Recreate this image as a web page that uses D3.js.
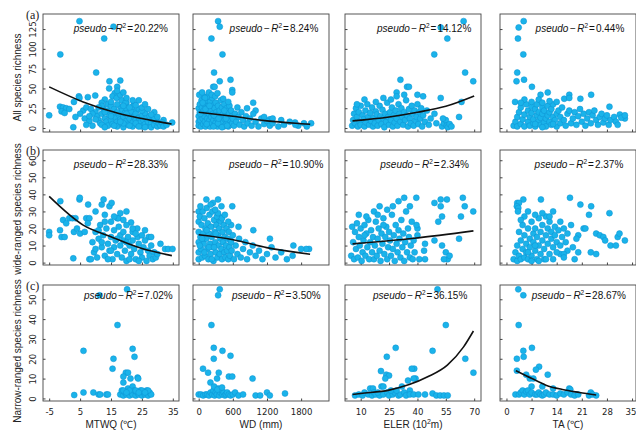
<!DOCTYPE html>
<html>
<head>
<meta charset="utf-8">
<script src="https://cdn.jsdelivr.net/npm/d3@7"></script>
<style>
body { margin:0; background:#fff; }
svg text { font-family: "Liberation Sans", Arial, sans-serif; fill:#222; }
.tick text { font-family: "Liberation Sans Narrow", "Arial Narrow", "DejaVu Sans Condensed", sans-serif; font-size:9.5px; }
</style>
</head>
<body>
<svg id="chart" width="636" height="430"></svg>
<script>
// ---- data ----
var xTitles = ["MTWQ (\u2103)", "WD (mm)", "ELER (10|2|m)", "TA (\u2103)"];
var yTitles = ["All species richness", "wide-ranged species richness", "Narrow-ranged species richness"];
var panelTags = ["(a)", "(b)", "(c)"];
var r2Labels = [["20.22%", "8.24%", "14.12%", "0.44%"],
                ["28.33%", "10.90%", "2.34%", "2.37%"],
                ["7.02%", "3.50%", "36.15%", "28.67%"]];
var xTicks = [[-5, 5, 15, 25, 35], [0, 600, 1200, 1800], [10, 25, 40, 55, 70], [0, 7, 14, 21, 28, 35]];
var yTicks = [[0, 25, 50, 75, 100, 125], [0, 10, 20, 30, 40, 50, 60], [0, 10, 20, 30, 40, 50]];

// row 1: all species
var allMTWQ = [[-5,16],[-1.4,93],[4.8,135],[-1.5,27],[-0.5,26],[0.5,25],[1.5,24],[-1,21],[0,19],[2.8,1],[3,33],[4.6,40],[4.8,38],[7.5,39],[9.9,41],[6,22],[7,26],[8.5,24],[5,18],[3.5,14],[6.5,12],[8,9],[7,4],[9,3],[10.2,70],[12.8,113],[15.8,128],[14.5,59],[18,60],[17,52],[14.4,50],[16.2,44],[15.5,40],[16.8,38],[13,36],[18.5,35],[12,32],[14,30],[20,32],[22.4,30],[23,21],[19.7,32],[27.3,13],[32,10],[34.8,7],[30,8],
  [10,20],[10.5,15],[11,10],[11.5,6],[12,18],[12.5,25],[13,12],[13.5,8],[14,22],[14,3],[14.5,16],[15,28],[15,10],[15.5,5],[16,19],[16,24],[16.5,13],[17,8],[17,2],[17.5,17],[18,27],[18,11],[18.5,22],[18.5,5],[19,14],[19,1],[19.5,19],[20,9],[20,25],[20.5,4],[21,16],[21,12],[21.5,21],[22,7],[22,2],[22.5,14],[23,18],[23,10],[23.5,4],[24,24],[24,13],[24.5,7],[25,16],[25,2],[25.5,10],[26,5],[26,19],[26.5,12],[27,3],[27,8],[27.5,15],[28,6],[28,1],[28.5,11],[29,4],[29.5,9],[30,2],[30.5,6],[31,3],[31.5,7],[32,2],[33,4],[12,28],[13,20],[15,15],[17,20],[19,6],[21,3],[23,6],[25,22],[20,18],[22,27],[16,3],[18,8],[24,2],[26,1],[29,12],[11,26],[9,18],[8,15],[10,11],[12,4],[13,1],[15,33],[17,30],[19,28],[21,26],[23,29],[25,26],[27,24],[29,20],[20,38],[18,42],[22,35],[19,45],[17,47],[24,35],[26,30],[28,17],[30,14]];
var allWD = [[341,135],[370,128],[224,113],[418,93],[270,70],[255,52],[280,52],[370,59],[559,61],[590,48],[590,45],[958,32],[1000,22],[1253,11],[1694,7],[1976,6],
  [0,25],[0,15],[0,8],[0,3],[20,30],[20,20],[30,10],[40,2],[50,35],[50,18],[60,26],[70,12],[80,5],[90,40],[90,22],[100,30],[100,15],[110,8],[120,2],[130,35],[130,20],[140,25],[150,12],[160,40],[160,5],[170,28],[180,18],[190,10],[200,33],[200,2],[210,22],[220,14],[230,6],[240,28],[240,38],[250,18],[260,10],[270,3],[280,25],[290,15],[300,32],[300,7],[310,20],[320,12],[330,2],[340,28],[350,17],[360,9],[370,22],[380,4],[390,35],[400,14],[410,26],[420,7],[430,18],[440,2],[450,30],[460,11],[470,20],[480,5],[490,25],[500,14],[510,8],[520,2],[530,19],[540,28],[550,10],[560,4],[570,22],[580,15],[590,6],[600,12],[620,3],[640,18],[660,8],[680,26],[700,14],[720,4],[750,20],[780,10],[800,2],[830,15],[860,6],[900,12],[930,3],[960,18],[1000,8],[1050,2],[1100,12],[1150,5],[1200,9],[1250,3],[1300,6],[1400,2],[1500,4],[1600,8],[1750,3],[1850,6],[1900,2],[10,42],[60,45],[110,38],[180,45],[230,42],[290,40],[330,44],[430,37],[520,33],[140,5],[260,2],[340,6],[410,1],[480,12],[30,18],[70,32],[120,24],[190,28],[270,16],[350,12],[450,22],[500,3],[850,25],[1150,14],[1300,12],[1450,10],[1700,4]];
var allELER = [[64.4,135],[52.3,127],[55.8,113],[48.9,93],[65.2,70],[69.5,59],[52.3,38],[63.3,33],[62,14],[31,61],[34.5,52],[35.5,52],[29,45],[43,40],[40,42],
  [5.5,3],[6,10],[6.5,18],[7,6],[7.5,25],[8,14],[8.5,2],[9,20],[9.5,8],[10,28],[10,4],[11,16],[11.5,11],[12,2],[12.5,22],[13,7],[13.5,30],[14,14],[14.5,4],[15,19],[15.5,9],[16,26],[16.5,2],[17,13],[17.5,6],[18,21],[18.5,17],[19,3],[19.5,10],[20,28],[20.5,15],[21,5],[21.5,23],[22,12],[22.5,1],[23,18],[23.5,8],[24,32],[24.5,14],[25,4],[25.5,20],[26,10],[26.5,26],[27,2],[27.5,16],[28,7],[28.5,22],[29,12],[29.5,3],[30,30],[30.5,18],[31,8],[31.5,25],[32,14],[32.5,4],[33,20],[33.5,10],[34,35],[34.5,16],[35,2],[35.5,24],[36,12],[36.5,6],[37,28],[37.5,18],[38,3],[38.5,22],[39,10],[39.5,14],[40,30],[40.5,5],[41,20],[41.5,12],[42,25],[42.5,2],[43,16],[44,8],[45,22],[46,4],[47,12],[49,18],[50,6],[53,2],[54,6],[55,10],[55.5,3],[56,1],[57,5],[58,2],[53.5,12],[8,30],[12,36],[18,33],[22,38],[26,36],[29,40],[33,42]];
var allTA = [[4.8,135],[3.4,127],[3.2,113],[4.7,93],[3,70],[2.8,59],[4.9,61],[7.1,52],[2.4,33],[11.5,45],[9.5,42],[16.1,37],[17.5,42],[17.5,38],[20.6,37],[23.6,42],[28.7,27],[33,12],[31.6,17],
  [2,3],[2.5,8],[3,2],[3,14],[3.5,20],[4,5],[4,26],[4.5,11],[5,2],[5,17],[5.5,30],[6,8],[6,22],[6.5,3],[6.5,14],[7,19],[7,27],[7.5,6],[7.5,11],[8,2],[8,24],[8.5,16],[8.5,30],[9,9],[9,20],[9.5,4],[9.5,13],[10,26],[10,18],[10.5,7],[10.5,22],[11,12],[11,2],[11.5,28],[11.5,16],[12,8],[12,20],[12.5,24],[12.5,4],[13,14],[13,30],[13.5,10],[14,18],[14,2],[14.5,22],[15,6],[15,14],[15.5,26],[16,10],[16.5,3],[17,18],[17.5,22],[18,6],[18.5,12],[19,20],[19.5,4],[20,15],[20.5,24],[21,8],[21.5,18],[22,3],[22.5,12],[23,20],[23.5,6],[24,16],[24.5,22],[25,10],[25.5,4],[26,14],[26.5,18],[27,7],[27.5,12],[28,16],[28.5,4],[29,10],[30,14],[30.5,8],[31,4],[32,13],[33,16],[7,33],[9,36],[5,36],[10,32],[12,34],[14,33],[8,5],[10,1],[13,5],[4,32]];

// row 2: wide-ranged species
var wideMTWQ = [[-5,18],[-5,16],[-1.4,36],[-1.5,19],[-1,15],[0,15],[-0.5,25],[0.5,23],[1.5,26],[2.5,26],[3.5,26],[2.8,2.5],[3,18],[4,20],[5,17],[6.5,18],[4.8,37],[4.9,38],[7.6,34],[7,26],[8,26],[7.5,23],[8,2],[8.5,2],[10,30],[12,34],[12.6,37],[13,28],[14.5,33],[15.2,35],[17,26],[17.4,26],[21.5,23.5],[23.6,15],[27.2,15],[31,11],[32.5,8],[33.5,8],[34.9,8],
  [9,12],[9.5,6],[10,18],[10.5,3],[11,14],[11.5,22],[12,9],[12.5,16],[13,4],[13.5,20],[14,11],[14.5,7],[15,24],[15,15],[15.5,2],[16,19],[16,9],[16.5,13],[17,5],[17.5,21],[18,16],[18,10],[18.5,3],[19,18],[19,13],[19.5,7],[20,22],[20,1],[20.5,15],[21,10],[21.5,5],[22,18],[22,13],[22.5,8],[23,2],[23.5,20],[24,11],[24.5,6],[25,16],[25,3],[25.5,9],[26,13],[26.5,1],[27,7],[27.5,4],[28,10],[28.5,2],[29,6],[29.5,3],[30,5],[13,24],[16,27],[19,25],[22,20],[18,29],[20,30],[11,19],[14,2],[17,14],[20,12],[23,17],[26,19],[21,2],[24,1],[28,15],[12,12],[15,7],[10,8]];
var wideWD = [[135,37],[340,37],[250,35],[400,33],[590,33],[360,27],[350,25],[700,21],[960,19],[1252,14],[1664,10],[1940,8],[1890,8],[1800,8],
  [0,30],[0,24],[0,18],[0,12],[0,6],[0,2],[20,27],[30,15],[40,8],[50,22],[60,3],[70,30],[80,17],[90,11],[100,26],[110,4],[120,20],[130,14],[140,32],[150,8],[160,23],[170,2],[180,17],[190,28],[200,11],[210,5],[220,21],[230,15],[240,30],[250,9],[260,1],[270,25],[280,18],[290,12],[300,6],[310,22],[320,27],[330,3],[340,16],[350,10],[360,20],[370,5],[380,14],[390,24],[400,8],[410,2],[420,18],[430,12],[440,22],[450,6],[460,15],[470,3],[480,10],[490,20],[500,7],[510,14],[520,2],[530,18],[540,9],[550,4],[560,13],[570,22],[580,7],[600,16],[620,2],[650,10],[680,5],[710,14],[740,3],[780,8],[820,12],[850,2],[900,6],[950,10],[1000,4],[1060,7],[1120,2],[1200,5],[1280,9],[1350,3],[1450,6],[1550,2],[1650,4],[20,10],[60,14],[100,6],[140,19],[180,9],[230,2],[270,9],[300,17],[340,29],[410,26],[460,28],[520,24],[570,12],[30,33],[210,34],[290,31]];
var wideELER = [[39.4,38],[49,35],[52.3,37],[55.6,37],[52.3,33],[64,38],[65,33],[69.5,30],[63,27],[51,24],[53,27],[62,14],[49,13],[53,10],[55,6],[56,2],[57,4],[54,2],[44,2],[43.5,7],[44,11],[40,16],[40,20],[39.5,22],[41,2],
  [5,4],[5.5,21],[6,12],[6.5,2],[7,18],[7.5,8],[8,23],[8.5,3],[9,15],[9.5,10],[10,20],[10.5,1],[11,6],[11.5,13],[12,22],[12.5,4],[13,17],[13.5,9],[14,25],[14.5,2],[15,12],[15.5,19],[16,6],[16.5,15],[17,2],[17.5,10],[18,24],[18.5,4],[19,14],[19.5,20],[20,7],[20.5,1],[21,17],[21.5,11],[22,26],[22.5,5],[23,15],[23.5,21],[24,2],[24.5,9],[25,18],[25.5,13],[26,4],[26.5,28],[27,8],[27.5,16],[28,1],[28.5,22],[29,11],[29.5,6],[30,19],[30.5,14],[31,3],[31.5,25],[32,9],[32.5,17],[33,1],[33.5,12],[34,30],[34.5,6],[35,20],[35.5,15],[36,3],[36.5,10],[37,24],[37.5,2],[38,13],[38.5,6],[9,28],[13,27],[17,30],[20,33],[24,31],[27,33],[30,36],[33,38],[36,33],[19,28],[22,22],[12,16]];
var wideTA = [[4.7,37],[3,35],[3.5,35],[2.9,33],[3.3,32],[3.2,30],[9.6,37],[17.7,38],[20.6,34],[23.6,33],[23,28],[28.7,29],[20,16],[21.5,20],[22,20],[25,17],[26,16],[27,15],[31,15],[31.5,17],[33,13],[29,10],[30.5,10],[27.5,13],[17,7],[20,6],[23.5,6],[25,5],[15,5],[16,5],
  [2,2],[2.5,6],[3,1],[3,10],[3.5,4],[3.5,18],[4,13],[4,2],[4.5,8],[4.5,22],[5,3],[5,16],[5.5,11],[5.5,6],[6,20],[6,2],[6.5,14],[6.5,9],[7,24],[7,4],[7.5,17],[7.5,12],[8,7],[8,20],[8.5,2],[8.5,15],[9,10],[9,26],[9.5,5],[9.5,18],[10,13],[10,22],[10.5,8],[10.5,2],[11,16],[11,27],[11.5,11],[11.5,20],[12,5],[12,24],[12.5,14],[12.5,18],[13,9],[13,2],[13.5,21],[13.5,16],[14,12],[14,6],[14.5,19],[15,24],[15,10],[15.5,15],[16,20],[16,3],[16.5,12],[17,17],[18,22],[18.5,9],[19,2],[19.5,14],[5,27],[6,30],[8,28],[10,29],[12,27],[13,30],[4,25],[7,1],[9,1],[11,2],[6,6],[8,10]];

// row 3: narrow-ranged species
var narrowMTWQ = [[3.1,1.7],[6.1,24],[6.1,3],[9.3,3],[11,2],[11.5,2],[13.5,2],[14,2],[11.3,52],[17.1,37],[15.8,20],[15.5,15],[20.2,55],[22,25],[22.6,21],[19.8,13],[20.5,13],[19,11],[19,8],[21.3,10],[23.6,10.5],[23.8,10],
  [18,2],[18.5,4],[19,1.5],[19.5,3],[20,2],[20.5,5],[21,1.5],[21.5,3],[22,2],[22,6],[22.5,4],[23,1.5],[23.5,3],[24,2],[24.5,4],[25,1.5],[25.5,3],[26,2],[26.5,4],[27,1.5],[27.5,3],[28,2],[19,4],[21,4],[23,4],[25,4],[27,4],[20,3],[24,3],[26,3]];
var narrowWD = [[370,55],[341,52],[224,37],[265,25.5],[418,24],[265,20],[559,21.5],[76,15],[165,13],[353,13],[323,10],[530,11],[590,11],[206,8],[947,10],
  [0,2],[40,2],[80,1.5],[120,2],[150,2],[180,1.5],[210,3],[240,2],[260,4],[280,1.5],[300,3],[320,2],[340,5],[360,1.5],[380,3],[400,4],[420,2],[440,3],[460,1.5],[480,2],[500,3],[530,2],[560,1.5],[600,2],[640,3],[700,1.5],[780,2],[1000,1.5],[1080,1.5],[1200,3],[1250,1.5],[1517,2.5],[270,6],[330,4.5],[410,5.5]];
var narrowELER = [[50.6,55],[55,37],[48,24],[65.3,20],[69.6,13],[38.3,15],[39,10],[28.5,25.5],[23.8,21],[20.7,13.8],[23.5,12],[25,11.5],[23,10],[21,6],[22,6],[15,5],[16.5,5],[31.8,6],[35,9],[36,4],[37,15],[38,10],
  [7,1.5],[9,2],[11,1.5],[12,3],[14,2],[16,1.5],[17,3],[18,2],[20,1.5],[22,2],[24,3],[25,1.5],[27,2],[28,3],[30,1.5],[31,2],[33,3],[34,1.5],[36,2],[38,2],[40.5,2],[44,2],[48,2.5],[50,1.5],[52,1.5],[54,1.5],[56,1.5],[19,3],[26,4],[29,4]];
var narrowTA = [[3.3,55],[4.7,52],[3.4,37],[7.1,25.5],[4.7,24],[4.8,21],[2.9,20],[9.1,16],[8.2,14.5],[2.9,14],[11.5,12],[5.5,12],[6.5,10],[7.5,10],[7,6],[17.5,5],[17.8,4.5],[13,5],[10,6],
  [2.5,2],[3.5,2],[4,3],[4.5,4],[5,2],[5.5,3.5],[6,4],[6.5,2],[7,3],[8,2],[8.5,2],[9,3],[9.5,2],[10,1.5],[10.5,2],[11,3],[12,2],[13,2],[14,1.5],[15,2.5],[16,2],[17,3],[18,2],[19,1.5],[20,2],[23,1.5],[23.5,3],[24,2],[25,1.5]];

// fitted curves
var fitAllMTWQ = [[-5,52],[6,33],[17,19],[28,9.7],[34.6,5]];
var fitAllWD = [[0,20],[600,14.8],[1200,9],[1800,5.5],[1960,4.7]];
var fitAllELER = [[5.7,9],[25,14],[40,20],[55,27.5],[70,40.5]];
var fitWideMTWQ = [[-5,38.8],[6,22],[14.8,15.3],[24.5,8.5],[34.7,4.1]];
var fitWideWD = [[0,16.3],[605,13.4],[1194,8.8],[1958,4.9]];
var fitWideELER = [[5.7,11],[38.5,14.3],[69.6,18.6]];
var fitNarrowELER = [[5.7,2],[10,2.5],[25,4.2],[45.4,10.9],[55.8,16.8],[64.4,26],[69.6,34]];
var fitNarrowTA = [[2.6,14],[7.1,10],[11,6.7],[15.6,4.5],[20.3,3],[25,1.7]];

var panelPoints = [[allMTWQ, allWD, allELER, allTA],
                   [wideMTWQ, wideWD, wideELER, wideTA],
                   [narrowMTWQ, narrowWD, narrowELER, narrowTA]];
var panelFits = [[fitAllMTWQ, fitAllWD, fitAllELER, null],
                 [fitWideMTWQ, fitWideWD, fitWideELER, null],
                 [null, null, fitNarrowELER, fitNarrowTA]];

// ---- layout ----
var svg = d3.select("#chart");
var colX = [43, 193, 345, 500], panelW = 136;
var rowTop = [14, 150, 285], rowBot = [132, 265, 401];
var xDomains = [[-7, 37], [-100, 2290], [1.7, 73.6], [-1.8, 36.1]];
var yDomains = [[-5, 144], [-1.4, 66], [-1.3, 57.2]];
var labelPad = [[11, 10.7, 9.7, 11.7], [11, 5.7, 12, 12.7], [6.3, 8.3, 13.7, 10]]; // right gap of R2 text
var titleMid = [77.5, 209, 351];
var plainNum = function(d) { return String(d); }; // "-5", "1200" as in the figure

var xScales = xDomains.map(function(d, c) {
  return d3.scaleLinear().domain(d).range([colX[c], colX[c] + panelW]);
});
var yScales = yDomains.map(function(d, r) {
  return d3.scaleLinear().domain(d).range([rowBot[r], rowTop[r]]);
});

for (var r = 0; r < 3; r++) {
  for (var c = 0; c < 4; c++) {
    var xs = xScales[c], ys = yScales[r];
    var g = svg.append("g").attr("class", "panel");

    // frame
    g.append("rect")
     .attr("x", colX[c]).attr("y", rowTop[r])
     .attr("width", panelW).attr("height", rowBot[r] - rowTop[r])
     .attr("fill", "none").attr("stroke", "#444").attr("stroke-width", 0.9);

    // inward ticks
    var yAxis = g.append("g")
                 .attr("transform", "translate(" + colX[c] + ",0)")
                 .call(d3.axisLeft(ys).tickValues(yTicks[r]).tickFormat(plainNum).tickSizeInner(-2.5).tickSizeOuter(0));
    yAxis.select(".domain").remove();
    yAxis.selectAll("line").attr("stroke", "#444");
    if (c == 0) {
      yAxis.selectAll("text")
           .attr("transform", "rotate(-90)")
           .attr("x", 0).attr("y", -7).attr("dy", null)
           .attr("text-anchor", "middle");
    } else {
      yAxis.selectAll("text").remove();
    }

    var xAxis = g.append("g")
                 .attr("transform", "translate(0," + rowBot[r] + ")")
                 .call(d3.axisBottom(xs).tickValues(xTicks[c]).tickFormat(plainNum).tickSizeInner(-2.5).tickSizeOuter(0));
    xAxis.select(".domain").remove();
    xAxis.selectAll("line").attr("stroke", "#444");
    if (r == 2) {
      xAxis.selectAll("text").attr("y", 13.5).attr("dy", null);
      if (c == 3) { // last label sits on the page edge
        xAxis.selectAll("text").filter(function(d) { return d == 35; }).attr("dx", -1.5);
      }
    } else {
      xAxis.selectAll("text").remove();
    }

    // points
    g.append("g").selectAll("circle")
     .data(panelPoints[r][c])
     .enter()
     .append("circle")
     .attr("cx", function(d) { return xs(d[0]); })
     .attr("cy", function(d) { return ys(d[1]); })
     .attr("r", 3)
     .attr("fill", "#1ab3ea")
     .attr("stroke", "#0c92d2")
     .attr("stroke-width", 0.5);

    // fitted curve
    if (panelFits[r][c]) {
      var line = d3.line()
                   .x(function(d) { return xs(d[0]); })
                   .y(function(d) { return ys(d[1]); })
                   .curve(d3.curveMonotoneX);
      g.append("path")
       .attr("d", line(panelFits[r][c]))
       .attr("fill", "none")
       .attr("stroke", "#111")
       .attr("stroke-width", 1.6);
    }

    // pseudo-R2 label
    var t = g.append("text")
             .attr("x", colX[c] + panelW - labelPad[r][c])
             .attr("y", rowTop[r] + (r == 2 ? 13.5 : 17.5))
             .attr("text-anchor", "end")
             .style("font-size", "10px")
             .style("fill", "#111");
    t.append("tspan").style("font-style", "italic").text("pseudo");
    t.append("tspan").attr("dx", 1.5).text("\u2212");
    t.append("tspan").attr("dx", 1.5).style("font-style", "italic").text("R");
    t.append("tspan").attr("dy", -4).style("font-size", "6.5px").text("2");
    t.append("tspan").attr("dy", 4).attr("dx", 1).text("=");
    t.append("tspan").attr("dx", 1).text(r2Labels[r][c]);
  }

  // row title and tag
  svg.append("text")
     .attr("transform", "translate(21," + titleMid[r] + ") rotate(-90)")
     .attr("text-anchor", "middle")
     .style("font-size", "10px")
     .text(yTitles[r]);
  svg.append("text")
     .attr("x", 26).attr("y", rowTop[r] + 5)
     .style("font-family", "'Liberation Serif', 'Times New Roman', serif")
     .style("font-size", "12px")
     .text(panelTags[r]);
}

// x titles (superscript marked with |)
xTitles.forEach(function(s, c) {
  var parts = s.split("|");
  var t = svg.append("text")
             .attr("x", colX[c] + panelW / 2)
             .attr("y", 428)
             .attr("text-anchor", "middle")
             .style("font-size", "10px");
  t.append("tspan").text(parts[0]);
  if (parts.length > 1) {
    t.append("tspan").attr("dy", -4).style("font-size", "7px").text(parts[1]);
    t.append("tspan").attr("dy", 4).text(parts[2]);
  }
});
</script>
</body>
</html>
